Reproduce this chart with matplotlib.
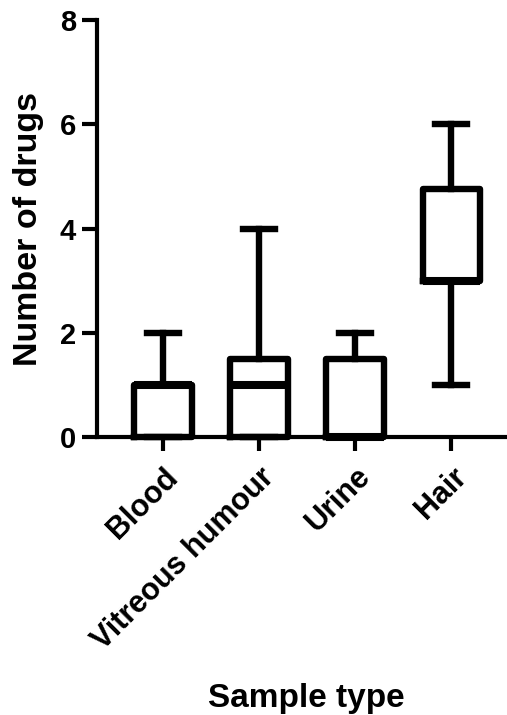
import matplotlib
matplotlib.use('Agg')
import matplotlib.pyplot as plt

plt.rcParams['font.family'] = ['Liberation Sans', 'DejaVu Sans']
plt.rcParams['font.weight'] = 'bold'

# box summary per sample type
categories = ['Blood', 'Vitreous humour', 'Urine', 'Hair']
medians = [1, 1, 0, 3]
q1s = [0, 0, 0, 3]
q3s = [1, 1.5, 1.5, 4.75]
whislos = [0, 0, 0, 1]
whishis = [2, 4, 2, 6]
yticks = [0, 2, 4, 6, 8]

stats = []
for lab, med, q1, q3, lo, hi in zip(categories, medians, q1s, q3s, whislos, whishis):
    stats.append({'label': lab, 'med': med, 'q1': q1, 'q3': q3,
                  'whislo': lo, 'whishi': hi, 'fliers': []})

fig = plt.figure(figsize=(5.07, 7.15), dpi=100)
ax = fig.add_axes([97 / 507, 1 - 437 / 715, 410 / 507, 417 / 715])

lw = 4.6
bp = ax.bxp(stats, positions=range(len(categories)), widths=0.6,
            capwidths=0.33, showfliers=False, patch_artist=False,
            boxprops=dict(color='black', linewidth=lw),
            whiskerprops=dict(color='black', linewidth=lw),
            capprops=dict(color='black', linewidth=lw),
            medianprops=dict(color='black', linewidth=5.8, solid_capstyle='butt'))
for key in bp:
    for art in bp[key]:
        art.set_clip_on(False)

ax.set_xlim(-0.69, 3.58)
ax.set_ylim(0, 8)
ax.set_yticks(yticks)
ax.set_xticks(range(len(categories)))
ax.set_xticklabels(categories, rotation=45, ha='right', rotation_mode='anchor',
                   fontsize=22, fontweight='bold')
ax.tick_params(axis='y', labelsize=21, width=3, length=11, pad=4)
ax.tick_params(axis='x', width=3, length=10, pad=8)
for t in ax.get_yticklabels():
    t.set_fontweight('bold')

for side in ['top', 'right']:
    ax.spines[side].set_visible(False)
for side in ['left', 'bottom']:
    ax.spines[side].set_linewidth(3)

ax.set_ylabel('Number of drugs', fontsize=24.5, fontweight='bold')
ax.yaxis.set_label_coords((29 - 97) / 410, 0.5)
ax.yaxis.label.set_va('center')
ax.set_xlabel('Sample type', fontsize=24, fontweight='bold')
ax.xaxis.set_label_coords((306 - 97) / 410, (437 - 698) / 417)
ax.xaxis.label.set_va('center')

fig.savefig('out.png', dpi=100)
